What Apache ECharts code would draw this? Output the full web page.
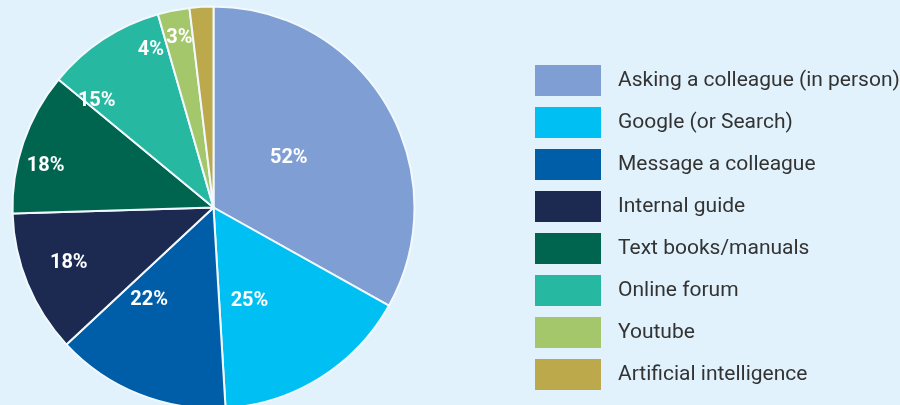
<!DOCTYPE html>
<html>
<head>
<meta charset="utf-8">
<script src="https://cdn.jsdelivr.net/npm/echarts@6/dist/echarts.min.js"></script>
<style>
  html, body { margin: 0; padding: 0; background: #e1f2fc; }
  #chart { width: 900px; height: 405px; }
</style>
</head>
<body>
<div id="chart"></div>
<script>
// Where people go for help (share of respondents, multiple answers allowed)
const categories = [
  'Asking a colleague (in person)',
  'Google (or Search)',
  'Message a colleague',
  'Internal guide',
  'Text books/manuals',
  'Online forum',
  'Youtube',
  'Artificial intelligence'
];
const shares = [52, 25, 22, 18, 18, 15, 4, 3];
const showPct = [true, true, true, true, true, true, true, true];

const palette = ['#7f9fd4', '#00bff2', '#005ea8', '#1c2951', '#00654f', '#27b8a1', '#a5c76b', '#bba94c'];

// Per-slice nudges for the percentage labels (pixels)
const labelNudge = [[-14, 3], [-19, 6], [-26, -4], [-49, 16], [-70, -8], [-60, -20], [-42, -56], [-28, -66]];

const chart = echarts.init(document.getElementById('chart'), null, { renderer: 'canvas' });

chart.setOption({
  backgroundColor: '#e1f2fc',
  animation: false,
  color: palette,
  legend: {
    orient: 'vertical',
    left: 535,
    top: 65,
    padding: 0,
    itemWidth: 66,
    itemHeight: 31,
    itemGap: 11,
    icon: 'rect',
    selectedMode: false,
    itemStyle: { borderWidth: 0 },
    textStyle: {
      fontFamily: 'Roboto',
      fontSize: 21,
      fontWeight: 'normal',
      color: '#333333',
      padding: [0, 0, 0, 12]
    },
    data: categories
  },
  series: [{
    type: 'pie',
    center: [213.5, 207.5],
    radius: [0, 201],
    startAngle: 90,
    clockwise: true,
    avoidLabelOverlap: false,
    minShowLabelAngle: 0,
    itemStyle: { borderColor: '#f2f9fe', borderWidth: 2 },
    label: {
      show: true,
      position: 'inside',
      formatter: '{c}%',
      color: '#ffffff',
      fontFamily: 'Roboto',
      fontWeight: 'bold',
      fontSize: 20
    },
    labelLine: { show: false },
    emphasis: { disabled: true },
    labelLayout: function (p) {
      const n = labelNudge[p.dataIndex] || [0, 0];
      return { dx: n[0], dy: n[1] };
    },
    data: categories.map((name, i) => ({
      name: name,
      value: shares[i],
      label: { show: showPct[i] }
    }))
  }]
});
</script>
</body>
</html>
